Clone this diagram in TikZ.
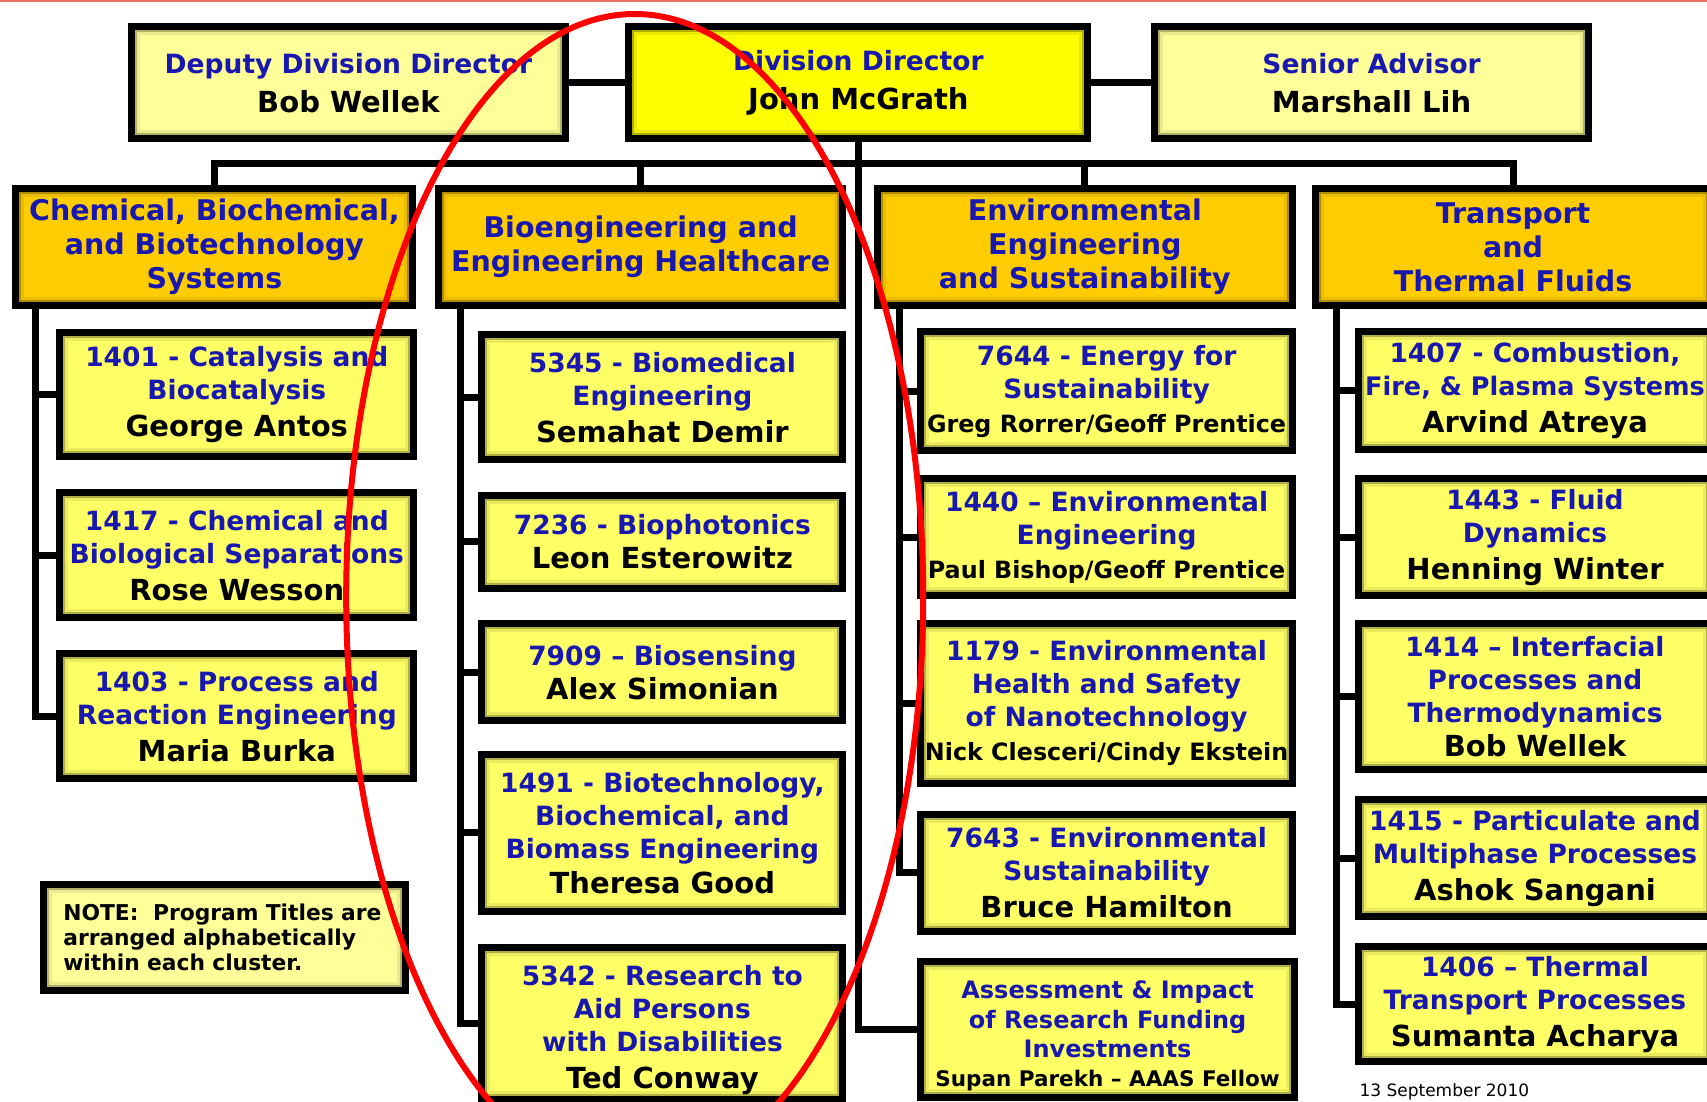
\documentclass[tikz,border=0pt]{standalone}
\usepackage{fontspec}
\setmainfont{DejaVu Sans}
\definecolor{ttlblue}{RGB}{24,24,176}
\definecolor{paleyel}{RGB}{255,255,153}
\definecolor{kidyel}{RGB}{255,255,102}
\definecolor{bossyel}{RGB}{255,255,0}
\definecolor{grouporange}{RGB}{255,204,0}
\definecolor{pageline}{RGB}{232,115,90}
\newcommand\ttlsize{\fontsize{26.5}{33}\selectfont\bfseries}
\newcommand\groupsize{\fontsize{28.5}{34}\selectfont\bfseries}
\newcommand\chief[1]{{\color{black}\fontsize{29}{33}\selectfont #1}}
\newcommand\chiefs[2][23.8]{{\color{black}\fontsize{#1}{29}\selectfont #2}}
\begin{document}
\begin{tikzpicture}[x=1pt,y=-1pt]
\tikzstyle{box}=[draw,line width=7pt,inner sep=0pt,align=center,text=ttlblue,font=\ttlsize,
  path picture={\draw[black,opacity=.08,line width=17pt] (path picture bounding box.south west) rectangle (path picture bounding box.north east);
                \draw[black,opacity=.25,line width=11pt] (path picture bounding box.south west) rectangle (path picture bounding box.north east);}]
\tikzstyle{lead}=[box,fill=paleyel,minimum width=434,minimum height=112]
\tikzstyle{group}=[box,fill=grouporange,font=\groupsize,minimum height=116]
\tikzstyle{kid}=[box,fill=kidyel]
\tikzstyle{link}=[line width=7pt]
\useasboundingbox (0,0) rectangle (1707,1102);
\clip (0,0) rectangle (1707,1102);
\fill[white] (0,0) rectangle (1707,1102);
\draw[pageline,line width=2.5pt] (0,1) -- (1707,1);

\node[lead] at (348.4,82.7) (deputy) {Deputy Division Director\\[6pt]\chief{Bob Wellek}};
\node[lead,fill=bossyel,minimum width=459] at (858.4,82.7) (director) {Division Director\\[6pt]\chief{John McGrath}};
\node[lead] at (1371.6,82.7) (senior) {Senior Advisor\\[6pt]\chief{Marshall Lih}};

\node[group,minimum width=397] at (214.4,247) (chem) {Chemical, Biochemical,\\and Biotechnology\\Systems};
\node[group,minimum width=404] at (640.6,247) (bioeng) {Bioengineering and\\Engineering Healthcare};
\node[group,minimum width=415] at (1084.8,247) (env) {Environmental\\Engineering\\and Sustainability};
\node[group,minimum width=396] at (1513,247) (trans) {Transport\\and\\Thermal Fluids};

\node[kid,minimum width=354,minimum height=124] at (236.8,394.6) (c1401) {1401 - Catalysis and\\Biocatalysis\\[4pt]\chief{George Antos}};
\node[kid,minimum width=354,minimum height=125] at (236.8,555.2) (c1417) {1417 - Chemical and\\Biological Separations\\[4pt]\chief{Rose Wesson}};
\node[kid,minimum width=354,minimum height=125] at (236.8,716.3) (c1403) {1403 - Process and\\Reaction Engineering\\[4pt]\chief{Maria Burka}};

\node[kid,minimum width=361,minimum height=125] at (662.4,397.3) (b5345) {5345 - Biomedical\\Engineering\\[4pt]\chief{Semahat Demir}};
\node[kid,minimum width=361,minimum height=93] at (662.4,541.6) (b7236) {7236 - Biophotonics\\[1pt]\chief{Leon Esterowitz}};
\node[kid,minimum width=361,minimum height=97] at (662.4,672.2) (b7909) {7909 -- Biosensing\\[1pt]\chief{Alex Simonian}};
\node[kid,minimum width=361,minimum height=157] at (662.4,832.8) (b1491) {1491 - Biotechnology,\\Biochemical, and\\Biomass Engineering\\[2pt]\chief{Theresa Good}};
\node[kid,minimum width=361,minimum height=152] at (662.4,1023) (b5342) {\rule{0pt}{34pt}5342 - Research to\\Aid Persons\\with Disabilities\\[4pt]\chief{Ted Conway}};

\node[kid,minimum width=372,minimum height=119] at (1106.6,391.4) (e7644) {7644 - Energy for\\Sustainability\\[1pt]\chiefs{Greg Rorrer/Geoff Prentice}};
\node[kid,minimum width=372,minimum height=117] at (1106.6,537.2) (e1440) {1440 -- Environmental\\Engineering\\[1pt]\chiefs{Paul Bishop/Geoff Prentice}};
\node[kid,minimum width=372,minimum height=160] at (1106.6,703.2) (e1179) {1179 - Environmental\\Health and Safety\\of Nanotechnology\\[1pt]\chiefs{Nick Clesceri/Cindy Ekstein}};
\node[kid,minimum width=372,minimum height=117] at (1106.6,872.5) (e7643) {7643 - Environmental\\Sustainability\\[4pt]\chief{Bruce Hamilton}};
\node[kid,minimum width=374,minimum height=136,font=\fontsize{24}{29.4}\selectfont\bfseries] at (1107.6,1029) (assess) {\rule{0pt}{32pt}Assessment \& Impact\\of Research Funding\\Investments\\\chiefs[21.5]{Supan Parekh -- AAAS Fellow}};

\node[kid,minimum width=353,minimum height=118] at (1535,390.8) (t1407) {1407 - Combustion,\\{\fontsize{25.5}{33}\selectfont Fire, \& Plasma Systems}\\[4pt]\chief{Arvind Atreya}};
\node[kid,minimum width=353,minimum height=117] at (1535,537.2) (t1443) {1443 - Fluid\\Dynamics\\[4pt]\chief{Henning Winter}};
\node[kid,minimum width=353,minimum height=146] at (1535,696.7) (t1414) {1414 -- Interfacial\\Processes and\\Thermodynamics\\[1pt]\chief{Bob Wellek}};
\node[kid,minimum width=353,minimum height=117] at (1535,858.4) (t1415) {1415 - Particulate and\\Multiphase Processes\\[4pt]\chief{Ashok Sangani}};
\node[kid,minimum width=353,minimum height=115] at (1535,1004.2) (t1406) {1406 -- Thermal\\Transport Processes\\[4pt]\chief{Sumanta Acharya}};

\node[box,fill=paleyel,minimum width=362,minimum height=106,text width=322,align=left,text=black,
  font=\fontsize{21.8}{25}\selectfont\bfseries] at (224.3,937.8) (note) {NOTE:~ Program Titles are\\arranged alphabetically\\within each cluster.};
\node[anchor=west,font=\fontsize{17}{20}\selectfont] at (1356,1092) (stamp) {13 September 2010};

\coordinate (chemtop) at (35.9,304);
\coordinate (biotop) at (460.5,304);
\coordinate (envtop) at (899.2,304);
\coordinate (transtop) at (1336.8,304);

\draw[link] (deputy) -- (director) -- (senior);
\draw[link] (chem.north) -- ++(0,-21.7) -| (trans.north)
    (bioeng.north) -- ++(0,-21.7)
    (env.north) -- ++(0,-21.7);
\draw[link] (director.south) |- (assess.west);
\draw[link] (chemtop) |- (c1403.west)
    (chemtop |- c1401.west) -- (c1401.west)
    (chemtop |- c1417.west) -- (c1417.west);
\draw[link] (biotop) |- (b5342.west)
    (biotop |- b5345.west) -- (b5345.west)
    (biotop |- b7236.west) -- (b7236.west)
    (biotop |- b7909.west) -- (b7909.west)
    (biotop |- b1491.west) -- (b1491.west);
\draw[link] (envtop) |- (e7643.west)
    (envtop |- e7644.west) -- (e7644.west)
    (envtop |- e1440.west) -- (e1440.west)
    (envtop |- e1179.west) -- (e1179.west);
\draw[link] (transtop) |- (t1406.west)
    (transtop |- t1407.west) -- (t1407.west)
    (transtop |- t1443.west) -- (t1443.west)
    (transtop |- t1414.west) -- (t1414.west)
    (transtop |- t1415.west) -- (t1415.west);

\draw[red,line width=6pt] (634.7,597) ellipse [x radius=288.5,y radius=583];
\end{tikzpicture}
\end{document}
